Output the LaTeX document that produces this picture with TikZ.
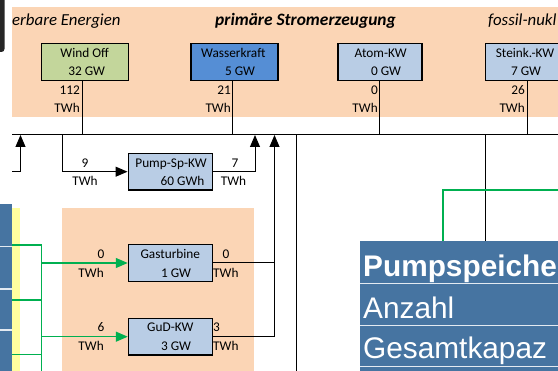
\documentclass[tikz,border=0pt]{standalone}
\usepackage{fontspec}
\setmainfont{Carlito}
\newfontfamily\arialf{Liberation Sans}
\usetikzlibrary{arrows.meta,calc}
\definecolor{orangeband}{HTML}{FBD5B5}
\definecolor{lblue}{HTML}{B9CDE5}
\definecolor{lgreen}{HTML}{C3D69B}
\definecolor{wblue}{HTML}{558ED5}
\definecolor{tblue}{HTML}{4674A1}
\definecolor{ygreen}{HTML}{00B050}
\definecolor{lyellow}{HTML}{FFFF9F}
\begin{document}
\begin{tikzpicture}[x=1pt,y=-1pt,
  box/.style={draw=black, line width=1.1pt, minimum height=37.5pt, inner sep=0pt},
  txt/.style={font=\fontsize{13.3}{16}\selectfont, inner sep=0pt, anchor=base},
  rtxt/.style={txt, anchor=base east},
  ltxt/.style={txt, anchor=base west},
  hdr/.style={font=\fontsize{16.8}{20}\selectfont\itshape, inner sep=0pt, anchor=base west},
  ttxt/.style={font=\fontsize{29.8}{34}\selectfont\arialf, text=white, inner sep=0pt, anchor=base west},
  wire/.style={draw=black, line width=1pt},
  gwire/.style={color=ygreen, draw=ygreen, line width=1.3pt},
  arr/.style={-{Triangle[length=12pt,width=10pt]}},
  sep/.style={draw=white!85!tblue, line width=1.2pt},
]
\useasboundingbox (0,0) rectangle (558,371);
\clip (0,0) rectangle (558,371);

% backgrounds
\fill[orangeband] (12,7.5) rectangle (558,117);
\fill[orangeband] (62,207.7) rectangle (254,371);
\fill[black!85, rounded corners=3pt] (-6,-6) rectangle (4.5,52);

% left strip
\fill[tblue] (0,204) rectangle (12,371);
\foreach \yy in {246.7,289,330} \draw[sep] (0,\yy) -- (12,\yy);
\fill[lyellow] (12,208.3) rectangle (20,371);

% headers
\node[hdr] (h1) at (12,26) {erbare Energien};
\node[hdr, font=\fontsize{17.4}{20}\selectfont\bfseries\itshape] (h2) at (215,26) {primäre Stromerzeugung};
\node[hdr] (h3) at (488,26) {fossil-nukl};

% boxes
\node[box, fill=lgreen, minimum width=86.6pt] (wind) at (85,62.2) {};
\node[box, fill=wblue, minimum width=87pt] (wasser) at (234.5,62.2) {};
\node[box, fill=lblue, minimum width=84pt] (atom) at (380,62.2) {};
\node[box, fill=lblue, minimum width=87pt] (stein) at (528.8,62.2) {};
\node[box, fill=lblue, minimum width=84.3pt, minimum height=36.7pt] (pump) at (170.2,171.7) {};
\node[box, fill=lblue, minimum width=84pt, minimum height=37.4pt] (gas) at (170.3,263) {};
\node[box, fill=lblue, minimum width=84pt, minimum height=36.7pt] (gud) at (170.3,336.7) {};

% box texts
\node[txt] (t1) at (84.7,57.3) {Wind Off};
\node[txt] (t2) at (86.7,76) {32 GW};
\node[txt] (t3) at (233.3,57.3) {Wasserkraft};
\node[txt] (t4) at (240,76) {5 GW};
\node[txt] (t5) at (380.7,57.3) {Atom-KW};
\node[txt] (t6) at (386,76) {0 GW};
\node[txt] (t7) at (525,57.3) {Steink.-KW};
\node[txt] (t8) at (526,76) {7 GW};
\node[txt] (t9) at (171,167.3) {Pump-Sp-KW};
\node[txt] (t10) at (182.5,185.7) {60 GWh};
\node[txt] (t11) at (170.3,258.5) {Gasturbine};
\node[txt] (t12) at (176,277.3) {1 GW};
\node[txt] (t13) at (170.3,332) {GuD-KW};
\node[txt] (t14) at (176,350.7) {3 GW};

% flow labels
\node[rtxt] (l1) at (80,95) {112};
\node[rtxt] (l2) at (80,112.7) {TWh};
\node[rtxt] (l3) at (231,95) {21};
\node[rtxt] (l4) at (231,112.7) {TWh};
\node[rtxt] (l5) at (378,95) {0};
\node[rtxt] (l6) at (378,112.7) {TWh};
\node[rtxt] (l7) at (525,95) {26};
\node[rtxt] (l8) at (525,112.7) {TWh};
\node[txt] (l9) at (85,167.3) {9};
\node[txt] (l10) at (85,185.7) {TWh};
\node[txt] (l11) at (235,167.3) {7};
\node[txt] (l12) at (233.5,185.7) {TWh};
\node[rtxt] (l13) at (104.5,258.3) {0};
\node[rtxt] (l14) at (104,277.3) {TWh};
\node[ltxt] (l15) at (222.5,258.3) {0};
\node[ltxt] (l16) at (213,277.3) {TWh};
\node[rtxt] (l17) at (104.5,332) {6};
\node[rtxt] (l18) at (104,350.7) {TWh};
\node[ltxt] (l19) at (213,332) {3};
\node[ltxt] (l20) at (213,350.7) {TWh};

% bus
\coordinate (busL) at (12,135);
\coordinate (busR) at (558,135);
\draw[wire] (busL) -- (busR);
\coordinate (b1) at (82.7,135);
\coordinate (b2) at (232.7,135);
\coordinate (b3) at (379.7,135);
\coordinate (b4) at (527.3,135);
\draw[wire] (wind.south -| b1) -- (b1);
\draw[wire] (wasser.south -| b2) -- (b2);
\draw[wire] (atom.south -| b3) -- (b3);
\draw[wire] (stein.south -| b4) -- (b4);

% pump storage
\coordinate (pin) at (62,135);
\coordinate (pout) at (255,135);
\draw[wire, arr] (pin) |- (pump.west);
\draw[wire, arr] (pump.east) -| (pout);

% left feed
\coordinate (lin) at (12,171.7);
\coordinate (lup) at (20.5,135);
\draw[wire, arr] (lin) -| (lup);

% gas plants to bus
\coordinate (gup) at (274.5,135);
\draw[wire] (gas.east) -| (gup |- gud.east);
\draw[wire, arr] (gud.east) -| (gup);

% down lines
\coordinate (v1) at (296.5,135);
\coordinate (v1e) at (296.5,371);
\draw[wire] (v1) -- (v1e);
\coordinate (v2) at (485,135);
\coordinate (v2e) at (485,241);
\draw[wire] (v2) -- (v2e);

% green lines right
\coordinate (g1) at (443,241);
\coordinate (g2) at (558,190);
\draw[gwire] (g1) |- (g2);

% green lines left
\coordinate (gl1) at (12,245);
\coordinate (gv) at (41.3,245);
\coordinate (gvb) at (41.3,371);
\draw[gwire] (gl1) -- (gv) -- (gvb);
\coordinate (gl2) at (12,300);
\coordinate (gl3) at (12,354.3);
\draw[gwire] (gl2) -- (gv |- gl2);
\draw[gwire] (gl3) -- (gv |- gl3);
\draw[gwire, arr] (gv |- gas.west) -- (gas.west);
\draw[gwire, arr] (gv |- gud.west) -- (gud.west);

% table
\fill[tblue] (360,241) rectangle (558,371);
\draw[sep] (360,283.3) -- (558,283.3);
\draw[sep] (360,325.7) -- (558,325.7);
\draw[sep] (360,366.7) -- (558,366.7);
\node[ttxt, font=\fontsize{29.8}{34}\selectfont\arialf\bfseries] (tb1) at (363,276.7) {Pumpspeiche};
\node[ttxt] (tb2) at (363,318.3) {Anzahl};
\node[ttxt] (tb3) at (363,358.3) {Gesamtkapaz};
\end{tikzpicture}
\end{document}
